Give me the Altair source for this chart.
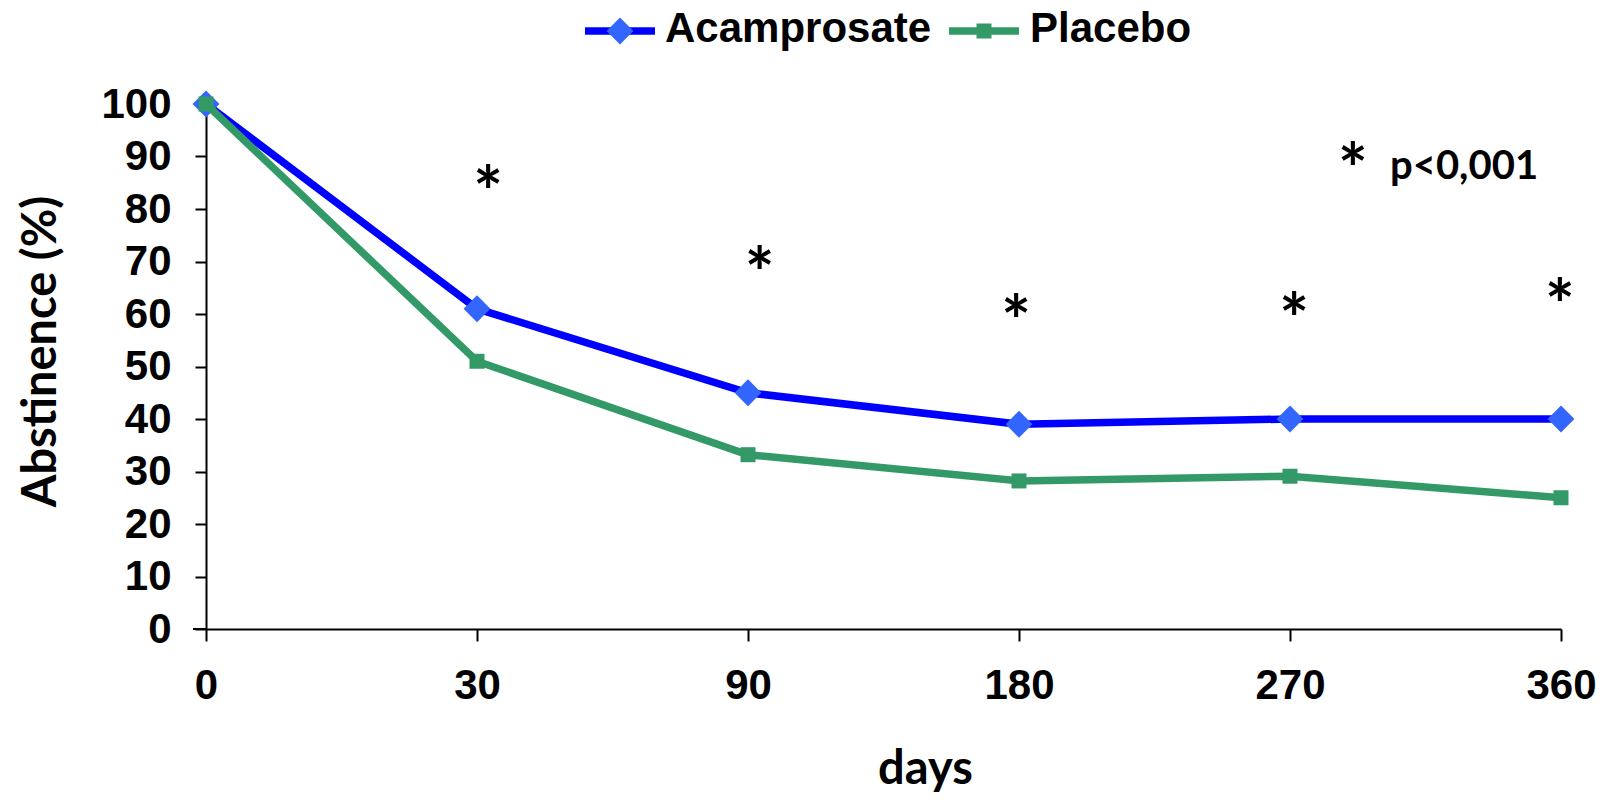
import json
import altair as alt
import pandas as pd

# ---------------- data ----------------
days = ["0", "30", "90", "180", "270", "360"]
acamprosate = [100, 61, 45, 39, 40, 40]
placebo = [100, 51, 33.2, 28.2, 29.1, 25]

series_names = ["Acamprosate", "Placebo"]
line_colors = ["#0000FF", "#339966"]
marker_colors = ["#3366FF", "#339966"]
marker_shapes = ["diamond", "square"]

# significance asterisks (position along the day axis index, height in %)
star_pos = [1.041, 2.043, 2.989, 4.015, 4.996]
star_val = [86.4, 71.1, 61.9, 62.3, 65.0]
note_star_pos = [4.232]
note_star_val = [90.8]
note_text = ["p<0,001"]
note_pos = [4.369]
note_val = [85.8]

# ---------------- layout ----------------
W, H = 1355, 525
LEFT = 198
LABEL_FONT = "Liberation Sans"
TITLE_FONT = "Lato"
SHIFT = 208 - (8 + LEFT)  # keep absolute positions of titles / legend

idx = list(range(len(days)))
df_a = pd.DataFrame({"i": idx, "day": days, "v": acamprosate})
df_p = pd.DataFrame({"i": idx, "day": days, "v": placebo})
df_star = pd.DataFrame({"i": star_pos + note_star_pos, "v": star_val + note_star_val})
df_note = pd.DataFrame({"i": note_pos, "v": note_val, "t": note_text})

label_expr = json.dumps(days) + "[datum.value]"

x_enc = alt.X(
    "i:Q",
    scale=alt.Scale(domain=[0, len(days) - 1], nice=False, zero=False),
    axis=alt.Axis(
        values=idx, labelExpr=label_expr, title="days", grid=False,
        labelPadding=24, tickSize=12, labelFlush=False, labelOverlap=False,
        titleX=717 + SHIFT, titleY=154, titleAlign="center", titleBaseline="alphabetic",
    ),
)
y_enc = alt.Y(
    "v:Q",
    scale=alt.Scale(domain=[0, 100], nice=False),
    axis=alt.Axis(
        values=list(range(0, 101, 10)), title="Abstinence (%)", grid=False,
        labelPadding=24, tickSize=11, labelFlush=False, labelOverlap=False,
        titleX=-167 + SHIFT, titleY=247, titleAngle=270, titleAlign="center",
        titleBaseline="middle",
    ),
)

line_a = alt.Chart(df_a).mark_line(color=line_colors[0], strokeWidth=7.5).encode(x=x_enc, y=y_enc)
pts_a = alt.Chart(df_a).mark_point(shape=marker_shapes[0], filled=True, size=720,
                                   color=marker_colors[0], opacity=1).encode(x="i:Q", y="v:Q")
line_p = alt.Chart(df_p).mark_line(color=line_colors[1], strokeWidth=7.5).encode(x="i:Q", y="v:Q")
pts_p = alt.Chart(df_p).mark_point(shape=marker_shapes[1], filled=True, size=225,
                                   color=marker_colors[1], opacity=1).encode(x="i:Q", y="v:Q")

stars = alt.Chart(df_star).mark_text(
    text="*", font=TITLE_FONT, fontWeight="bold", fontSize=70, color="black",
    baseline="middle", align="center", dy=22,
).encode(x="i:Q", y="v:Q")

note = alt.Chart(df_note).mark_text(
    font=TITLE_FONT, fontWeight="bold", fontSize=40, color="black",
    baseline="alphabetic", align="left",
).encode(x="i:Q", y="v:Q", text="t:N")

# small extension of the x axis line to the left of the y axis
axis_ext = alt.Chart(pd.DataFrame({"a": [0]})).mark_rule(color="black", strokeWidth=2).encode(
    x=alt.value(-13), x2=alt.value(0), y=alt.value(H)
)

# ---------------- manual legend ----------------
leg_y = -73
leg_line_x = [377 + SHIFT, 741 + SHIFT]
leg_line_len = 70
leg_text_x = [457 + SHIFT, 822 + SHIFT]
legend_layers = []
for k, name in enumerate(series_names):
    d = pd.DataFrame({"name": [name]})
    legend_layers.append(
        alt.Chart(d).mark_rule(color=line_colors[k], strokeWidth=7.5).encode(
            x=alt.value(leg_line_x[k]), x2=alt.value(leg_line_x[k] + leg_line_len), y=alt.value(leg_y)
        )
    )
    legend_layers.append(
        alt.Chart(d).mark_point(shape=marker_shapes[k], filled=True, opacity=1,
                                size=720 if k == 0 else 225, color=marker_colors[k]).encode(
            x=alt.value(leg_line_x[k] + leg_line_len / 2), y=alt.value(leg_y)
        )
    )
    legend_layers.append(
        alt.Chart(d).mark_text(font=LABEL_FONT, fontWeight="bold", fontSize=42, color="black",
                               align="left", baseline="alphabetic").encode(
            x=alt.value(leg_text_x[k]), y=alt.value(leg_y + 10.5), text="name:N"
        )
    )

chart = alt.layer(
    axis_ext, line_a, pts_a, line_p, pts_p, stars, note, *legend_layers
).properties(
    width=W, height=H,
    autosize=alt.AutoSizeParams(type="none"),
    padding={"left": LEFT, "top": 96, "right": 1591 - LEFT - W, "bottom": 166},
).configure_view(stroke=None).configure_axis(
    domainColor="black", domainWidth=2, tickColor="black", tickWidth=2,
    labelFont=LABEL_FONT, labelFontWeight="bold", labelFontSize=42, labelColor="black",
    titleFont=TITLE_FONT, titleFontWeight="bold", titleFontSize=47, titleColor="black",
)

chart.save("out.html", embed_options={"renderer": "svg", "actions": False})
